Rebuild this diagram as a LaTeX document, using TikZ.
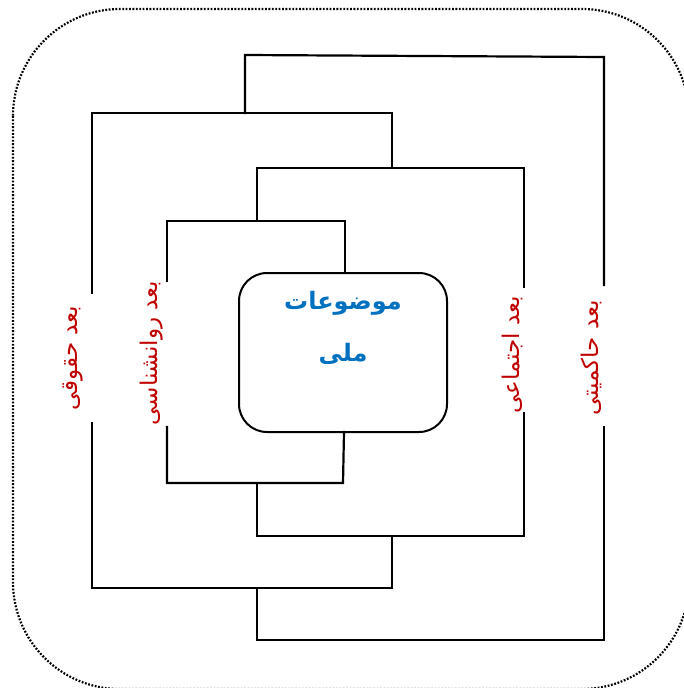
\documentclass[tikz,border=0pt]{standalone}
\usepackage{fontspec}
\newfontfamily\arabicfont[Script=Arabic]{DejaVu Sans}
\TeXXeTstate=1
\definecolor{dimred}{HTML}{C00000}
\definecolor{coreblue}{HTML}{0070C0}
\begin{document}
\begin{tikzpicture}[x=1pt,y=-1pt,
  link/.style={line width=2.2pt, line join=miter, line cap=rect},
  dotframe/.style={line width=2.2pt, dash pattern=on 1.8pt off 1.6pt, rounded corners=107pt},
  corebox/.style={draw, line width=2pt, rounded corners=28pt, minimum width=208pt, minimum height=159pt, inner sep=0pt},
  coretext/.style={text=coreblue, font=\arabicfont\bfseries\fontsize{24}{28}\selectfont, inner sep=0pt},
  dimlabel/.style={text=dimred, font=\arabicfont\fontsize{23}{26}\selectfont, rotate=90, inner sep=0pt}]
\useasboundingbox (0,0) rectangle (684,688);
\clip (0,0) rectangle (684,688);
\draw[dotframe] (13,9) rectangle (689,689);

% core
\node[corebox] (core) at (343,352.5) {};
\node[coretext] (t1) at (343,303) {\beginR موضوعات\endR};
\node[coretext] (t2) at (343,354) {\beginR ملی\endR};

% labels
\node[dimlabel] (hoq) at (73,358) {\beginR بعد حقوقی\endR};
\node[dimlabel] (rav) at (152,353) {\beginR بعد روانشناسی\endR};
\node[dimlabel] (ejt) at (512,355) {\beginR بعد اجتماعی\endR};
\node[dimlabel] (hak) at (591,358) {\beginR بعد حاکمیتی\endR};

% coordinates
\coordinate (rT) at (345,273);
\coordinate (rB) at (344,432);
\coordinate (rTa) at (345,221);
\coordinate (rTb) at (167,221);
\coordinate (rTe) at (167,281);
\coordinate (rBa) at (343,483);
\coordinate (rBb) at (167,483);
\coordinate (rBe) at (167,427);

\coordinate (eTa) at (257,221);
\coordinate (eTb) at (257,168);
\coordinate (eTc) at (524,168);
\coordinate (eTe) at (524,287);
\coordinate (eBa) at (257,483);
\coordinate (eBb) at (257,536);
\coordinate (eBc) at (524,536);
\coordinate (eBe) at (524,413);

\coordinate (hTa) at (392,168);
\coordinate (hTb) at (392,113);
\coordinate (hTc) at (92,113);
\coordinate (hTe) at (92,293);
\coordinate (hBa) at (392,536);
\coordinate (hBb) at (392,588);
\coordinate (hBc) at (92,588);
\coordinate (hBe) at (92,423);

\coordinate (kTa) at (245,113);
\coordinate (kTb) at (245,55);
\coordinate (kTc) at (604,57);
\coordinate (kTe) at (604,285);
\coordinate (kBa) at (257,588);
\coordinate (kBb) at (257,640);
\coordinate (kBc) at (604,640);
\coordinate (kBe) at (604,427);

\draw[link] (rT) -- (rTa) -- (rTb) -- (rTe);
\draw[link] (rB) -- (rBa) -- (rBb) -- (rBe);
\draw[link] (eTa) -- (eTb) -- (eTc) -- (eTe);
\draw[link] (eBa) -- (eBb) -- (eBc) -- (eBe);
\draw[link] (hTa) -- (hTb) -- (hTc) -- (hTe);
\draw[link] (hBa) -- (hBb) -- (hBc) -- (hBe);
\draw[link] (kTa) -- (kTb) -- (kTc) -- (kTe);
\draw[link] (kBa) -- (kBb) -- (kBc) -- (kBe);
\end{tikzpicture}
\end{document}
